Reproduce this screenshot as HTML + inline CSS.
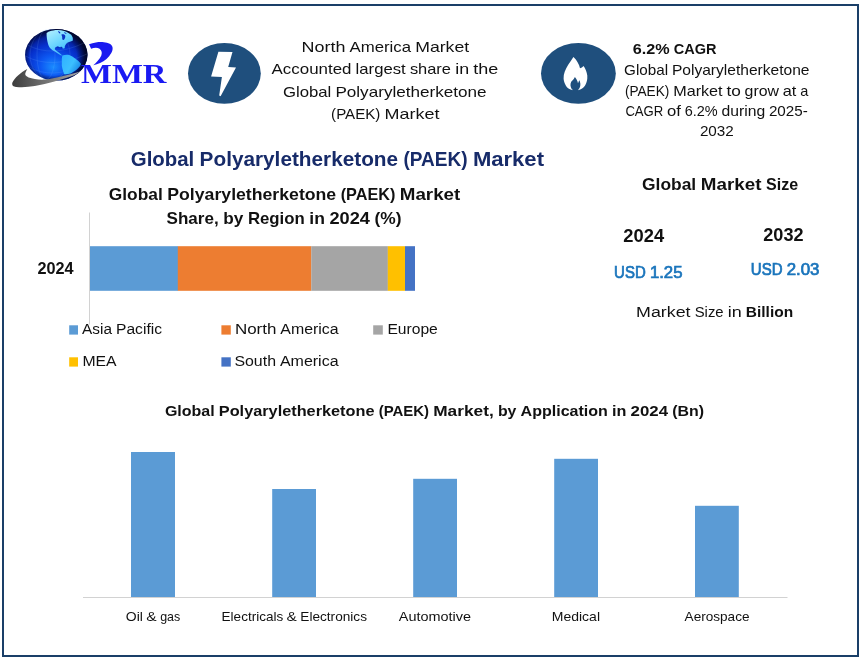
<!DOCTYPE html>
<html lang="en">
<head>
<meta charset="utf-8">
<title>Global Polyaryletherketone (PAEK) Market</title>
<style>
html,body{margin:0;padding:0;background:#fff;}
body{width:864px;height:660px;overflow:hidden;font-family:"Liberation Sans",sans-serif;}
svg{display:block;}
text{font-family:"Liberation Sans",sans-serif;}
.serif{font-family:"Liberation Serif",serif;}
</style>
</head>
<body>
<svg width="864" height="660" viewBox="0 0 864 660">
<defs>
<radialGradient id="globe" cx="0.45" cy="0.68" r="0.62" fx="0.45" fy="0.74">
<stop offset="0" stop-color="#1a8cff"/>
<stop offset="0.32" stop-color="#0d58f2"/>
<stop offset="0.66" stop-color="#0630cc"/>
<stop offset="1" stop-color="#031478"/>
</radialGradient>
<radialGradient id="rim" cx="0.45" cy="0.52" r="0.57">
<stop offset="0.66" stop-color="#020a40" stop-opacity="0"/>
<stop offset="0.88" stop-color="#01062a" stop-opacity="0.85"/>
<stop offset="1" stop-color="#000318" stop-opacity="1"/>
</radialGradient>
<linearGradient id="land" x1="0" y1="0" x2="0.6" y2="1">
<stop offset="0" stop-color="#b4f0ff"/>
<stop offset="0.55" stop-color="#6cd6ff"/>
<stop offset="1" stop-color="#38b4fa"/>
</linearGradient>
<linearGradient id="land2" x1="0" y1="0" x2="1" y2="0.6">
<stop offset="0" stop-color="#2fb0ff"/>
<stop offset="0.6" stop-color="#3cc0ff"/>
<stop offset="1" stop-color="#1a8ae8"/>
</linearGradient>
<linearGradient id="swoosh" x1="0" y1="0" x2="1" y2="0">
<stop offset="0" stop-color="#3c3c3c"/>
<stop offset="0.45" stop-color="#6e6e6e"/>
<stop offset="1" stop-color="#a8a8a8"/>
</linearGradient>
</defs>
<rect x="0" y="0" width="864" height="660" fill="#ffffff"/>
<!-- outer border -->
<rect x="3" y="5" width="855" height="651" fill="none" stroke="#1a3f68" stroke-width="2"/>
<!-- logo -->
<g id="logo">
<ellipse cx="56.3" cy="54.8" rx="31.2" ry="25.8" fill="url(#globe)"/>
<ellipse cx="56.3" cy="54.8" rx="31.2" ry="25.8" fill="url(#rim)"/>
<g fill="none" stroke="#7fbaff" stroke-width="0.5" opacity="0.3">
<ellipse cx="50" cy="54.8" rx="20" ry="25.4"/>
<ellipse cx="46" cy="54.8" rx="9" ry="24.6"/>
<path d="M27.5 45 Q52 58 84 43"/>
<path d="M25.3 56 Q52 70 87 54"/>
<path d="M29 67 Q52 80 83 65"/>
</g>
<path d="M46.6 32.9 C48.6 31.4 51 30.6 53.5 30.4 C57 29.8 60.8 30 64.3 30.9 C67 31.8 69.4 33.2 71.2 34.8 C72.6 36.6 73.2 38.6 72.7 40.7 C70.8 41.6 68.8 42 67.2 42.7 C66 43.8 65.2 45 64.8 46.2 C65 47.2 64.8 48 64.3 48.6 C63.2 48.6 62 47.8 61 47.4 C60.4 47.2 59.9 47.1 59.4 47.1 C58.2 46.6 57 46.6 55.9 47.1 C55 47.8 54.7 48.7 54.9 49.6 C56.2 51 57.8 52 59.4 53 C60.4 53.8 61.4 54.6 62.3 55.5 C61.2 55.4 60.2 55 59.4 54.5 C57.8 53.6 56.2 52.7 54.9 51.6 C53.2 50.8 51.7 49.8 50.5 48.6 C49.2 47.2 48.4 45.5 48 43.7 C47.2 40.2 46.4 36.5 46.6 32.9 Z" fill="url(#land)"/>
<path d="M62.3 55.5 C64.6 54.8 67 54.6 69.2 55 C71.4 55.8 73.4 57 75.1 58.5 C77.4 60 79.6 61.8 81 63.9 C80.4 65.6 79.4 67 78.1 68.3 C76 70.2 73.8 71.9 71.2 73.2 C69 74 66.6 74.4 64.3 74.2 C63.4 72.4 62.7 70.4 62.3 68.3 C61.8 66.4 61.6 64.4 61.8 62.4 C61.6 60 61.8 57.7 62.3 55.5 Z" fill="url(#land2)"/>
<path d="M61.4 34.6 C62.8 34 64.4 34.4 65.2 35.6 C65.6 37 65 38.6 64 39.8 C63 40.2 62.2 39.4 62.2 38.4 C62.4 37 61.8 35.8 61.4 34.6 Z" fill="#0a34c4"/>
<path d="M58 31 C60 31.6 61 33 60 33.6 C59 33.2 58.2 32.2 58 31 Z M64 32 C65.6 32.4 67 33.4 66.4 34 C65.2 33.8 64.2 33 64 32 Z" fill="#0a34c4"/>
<path d="M56.6 47 C57.6 46.2 58.8 46.4 59.2 47.4 C58.6 48.4 57.2 48.4 56.6 47 Z M60.2 47.2 C61.2 46.4 62.4 46.8 62.6 47.8 C61.8 48.6 60.6 48.4 60.2 47.2 Z" fill="#0a2fb8"/>
<path d="M27.3 69.1 C21 72.4 14.6 77.6 12.2 83.1 C11.8 85.8 13.6 87 16.3 86.9 C22.4 87.6 28.6 87 34.8 86 C38.2 85.5 41.4 84.8 44.6 84 C48 83.3 51.2 82.5 54.4 81.6 C57.8 80.7 61 79.7 64.3 78.6 C67.6 77.6 70.9 76.4 74.1 75.2 C76.5 74 78.8 72.6 81 71 C78.7 71.8 76.4 72.5 74.1 73.2 C70.9 74.2 67.6 75 64.3 75.7 C61 76.6 57.8 77.4 54.4 78.1 C51.2 78.8 48 79.4 44.6 79.6 C41.2 79.9 38 79.6 34.8 78.9 C31.8 78.6 29 78 27 76.6 C25.4 75.6 25 74.4 25.4 73 C25.8 71.6 26.6 70.3 27.3 69.1 Z" fill="url(#swoosh)"/>
<path d="M89 44.3 C91.2 43.4 93.6 42.8 95.9 42.4 C98.6 42 101.2 41.9 103.9 42.2 C106 42.4 108 42.9 109.7 43.7 C111.4 44.7 112.4 46 112.6 47.7 C112.8 49.5 112.2 51.2 111.3 53 C110 55.2 108.4 57.2 106.5 58.9 C104.6 60.5 102.4 61.9 100.1 63.1 C98 64.1 95.6 64.8 93.3 65.2 C95 63.8 96.6 62.2 98 60.5 C99.3 59 100.4 57.4 101.2 55.7 C101.7 54.5 101.9 53.2 101.7 52 C101.4 50.7 100.7 49.6 99.6 48.8 C98.5 48.1 97.2 47.8 95.9 47.7 C94.3 47.8 92.7 48.2 91.1 48.8 Z" fill="#1a1af0"/>
<text class="serif" x="81" y="82.8" font-size="27.5" font-weight="bold" fill="#1a1af2" textLength="85.5" lengthAdjust="spacingAndGlyphs">MMR</text>
</g>
<!-- lightning icon -->
<ellipse cx="224.4" cy="73.4" rx="36.4" ry="30.4" fill="#1f4f7d"/>
<path d="M218.4 51.8 L232.5 52 L228.2 67 L236 67.4 L220.6 96.2 L219.2 95.4 L221.9 76.9 L211.1 76.4 Z" fill="#ffffff"/>
<!-- flame icon -->
<ellipse cx="578.4" cy="73.4" rx="37.4" ry="30.4" fill="#1f4f7d"/>
<path d="M573.4 56.9 C575.2 58.4 576.6 60.3 577.7 62.4 C578.8 64.3 579.6 66.2 580 68.2 C581.4 67.8 582.6 67 583.5 65.9 C585 68 586.1 70.3 586.7 72.8 C587.3 74.7 587.5 76.6 587.3 78.6 C587.1 80.7 586.6 82.6 585.6 84.4 C584.8 86 583.6 87.4 582.1 88.4 C580.9 89.3 579.5 89.9 578 90.2 C579.3 88.9 580.1 87.3 580.3 85.6 C580.5 84.4 580.4 83.2 580 82.1 C579.9 81.4 579.6 80.8 579.2 80.3 C578.9 81.4 578.5 82.4 578 83.2 C577.7 81.8 577.2 80.6 576.6 79.5 C576.1 78.5 575.6 77.6 574.9 76.9 C574.3 78.4 573.3 79.6 572.4 80.6 C571.8 81.1 571.4 81.6 571.1 82.1 C570.6 83.2 570.4 84.4 570.5 85.6 C570.6 86.9 571 88 571.7 89 C572.2 89.5 572.8 89.9 573.4 90.2 C571.9 90 570.6 89.6 569.4 89 C567.6 88 566.2 86.3 565.3 84.4 C564.3 82.6 563.7 80.7 563.6 78.6 C563.5 76.2 563.9 73.9 564.7 71.7 C565.6 69.2 566.8 66.9 568.2 64.7 C569.9 62.1 571.7 59.6 573.4 56.9 Z" fill="#ffffff"/>
<!-- stacked bar chart -->
<line x1="89.5" y1="212.5" x2="89.5" y2="324.5" stroke="#d2d2d2" stroke-width="1"/>
<rect x="90" y="246.2" width="88" height="44.6" fill="#5b9bd5"/>
<rect x="177.8" y="246.2" width="133.6" height="44.6" fill="#ed7d31"/>
<rect x="311.3" y="246.2" width="76.6" height="44.6" fill="#a5a5a5"/>
<rect x="387.8" y="246.2" width="17.3" height="44.6" fill="#ffc000"/>
<rect x="405" y="246.2" width="10" height="44.6" fill="#4472c4"/>
<rect x="69.2" y="325.3" width="8.8" height="9.3" fill="#5b9bd5"/>
<rect x="221.4" y="325.3" width="9.4" height="9.3" fill="#ed7d31"/>
<rect x="373.2" y="325.3" width="9.6" height="9.3" fill="#a5a5a5"/>
<rect x="69.2" y="357.3" width="8.8" height="9.3" fill="#ffc000"/>
<rect x="221.4" y="357.3" width="9.4" height="9.3" fill="#4472c4"/>
<!-- column chart -->
<line x1="83" y1="597.5" x2="787.5" y2="597.5" stroke="#d2d2d2" stroke-width="1"/>
<rect x="131" y="452" width="44" height="145" fill="#5b9bd5"/>
<rect x="272.2" y="489" width="43.8" height="108" fill="#5b9bd5"/>
<rect x="413.2" y="478.8" width="43.8" height="118.2" fill="#5b9bd5"/>
<rect x="554.2" y="458.8" width="43.8" height="138.2" fill="#5b9bd5"/>
<rect x="695" y="505.8" width="43.8" height="91.2" fill="#5b9bd5"/>
<!-- text -->
<text y="52.0" font-size="15.0" fill="#111"><tspan x="301.6" textLength="43.8" lengthAdjust="spacingAndGlyphs">North</tspan> <tspan x="349.5" textLength="61.5" lengthAdjust="spacingAndGlyphs">America</tspan> <tspan x="415.2" textLength="53.9" lengthAdjust="spacingAndGlyphs">Market</tspan></text>
<text y="74.3" font-size="15.0" fill="#111"><tspan x="271.6" textLength="79.9" lengthAdjust="spacingAndGlyphs">Accounted</tspan> <tspan x="355.6" textLength="50.1" lengthAdjust="spacingAndGlyphs">largest</tspan> <tspan x="409.9" textLength="41.1" lengthAdjust="spacingAndGlyphs">share</tspan> <tspan x="455.2" textLength="13.9" lengthAdjust="spacingAndGlyphs">in</tspan> <tspan x="473.3" textLength="25.0" lengthAdjust="spacingAndGlyphs">the</tspan></text>
<text y="96.9" font-size="15.0" fill="#111"><tspan x="282.9" textLength="48.4" lengthAdjust="spacingAndGlyphs">Global</tspan> <tspan x="335.4" textLength="151.2" lengthAdjust="spacingAndGlyphs">Polyaryletherketone</tspan></text>
<text y="118.7" font-size="15.0" fill="#111"><tspan x="331.1" textLength="49.3" lengthAdjust="spacingAndGlyphs">(PAEK)</tspan> <tspan x="384.6" textLength="54.9" lengthAdjust="spacingAndGlyphs">Market</tspan></text>
<text y="53.8" font-size="14.2" font-weight="bold" fill="#111"><tspan x="632.8" textLength="36.9" lengthAdjust="spacingAndGlyphs">6.2%</tspan> <tspan x="673.8" textLength="42.7" lengthAdjust="spacingAndGlyphs">CAGR</tspan></text>
<text y="75.2" font-size="14.2" fill="#111"><tspan x="624.1" textLength="44.0" lengthAdjust="spacingAndGlyphs">Global</tspan> <tspan x="671.9" textLength="137.6" lengthAdjust="spacingAndGlyphs">Polyaryletherketone</tspan></text>
<text y="95.8" font-size="14.2" fill="#111"><tspan x="624.9" textLength="44.4" lengthAdjust="spacingAndGlyphs">(PAEK)</tspan> <tspan x="673.2" textLength="49.4" lengthAdjust="spacingAndGlyphs">Market</tspan> <tspan x="726.4" textLength="14.4" lengthAdjust="spacingAndGlyphs">to</tspan> <tspan x="744.6" textLength="34.4" lengthAdjust="spacingAndGlyphs">grow</tspan> <tspan x="782.8" textLength="13.6" lengthAdjust="spacingAndGlyphs">at</tspan> <tspan x="800.2" textLength="8.1" lengthAdjust="spacingAndGlyphs">a</tspan></text>
<text y="116.0" font-size="14.2" fill="#111"><tspan x="625.4" textLength="37.9" lengthAdjust="spacingAndGlyphs">CAGR</tspan> <tspan x="667.1" textLength="13.9" lengthAdjust="spacingAndGlyphs">of</tspan> <tspan x="684.7" textLength="33.0" lengthAdjust="spacingAndGlyphs">6.2%</tspan> <tspan x="721.5" textLength="43.7" lengthAdjust="spacingAndGlyphs">during</tspan> <tspan x="768.9" textLength="38.9" lengthAdjust="spacingAndGlyphs">2025-</tspan></text>
<text x="699.9" y="136.3" font-size="14.2" fill="#111" textLength="33.9" lengthAdjust="spacingAndGlyphs">2032</text>
<text y="166.2" font-size="20.0" font-weight="bold" fill="#172b69"><tspan x="130.8" textLength="63.5" lengthAdjust="spacingAndGlyphs">Global</tspan> <tspan x="199.6" textLength="198.5" lengthAdjust="spacingAndGlyphs">Polyaryletherketone</tspan> <tspan x="403.4" textLength="64.2" lengthAdjust="spacingAndGlyphs">(PAEK)</tspan> <tspan x="472.9" textLength="71.1" lengthAdjust="spacingAndGlyphs">Market</tspan></text>
<text y="199.5" font-size="17.0" font-weight="bold" fill="#111"><tspan x="108.8" textLength="54.0" lengthAdjust="spacingAndGlyphs">Global</tspan> <tspan x="167.3" textLength="168.9" lengthAdjust="spacingAndGlyphs">Polyaryletherketone</tspan> <tspan x="340.7" textLength="54.6" lengthAdjust="spacingAndGlyphs">(PAEK)</tspan> <tspan x="399.8" textLength="60.5" lengthAdjust="spacingAndGlyphs">Market</tspan></text>
<text y="223.9" font-size="17.0" font-weight="bold" fill="#111"><tspan x="166.6" textLength="52.1" lengthAdjust="spacingAndGlyphs">Share,</tspan> <tspan x="223.3" textLength="20.1" lengthAdjust="spacingAndGlyphs">by</tspan> <tspan x="247.9" textLength="56.9" lengthAdjust="spacingAndGlyphs">Region</tspan> <tspan x="309.3" textLength="15.6" lengthAdjust="spacingAndGlyphs">in</tspan> <tspan x="329.4" textLength="40.5" lengthAdjust="spacingAndGlyphs">2024</tspan> <tspan x="374.5" textLength="27.0" lengthAdjust="spacingAndGlyphs">(%)</tspan></text>
<text x="37.4" y="274.0" font-size="15.6" font-weight="bold" fill="#111" textLength="36.2" lengthAdjust="spacingAndGlyphs">2024</text>
<text y="334.3" font-size="15.5" fill="#111"><tspan x="82.1" textLength="29.9" lengthAdjust="spacingAndGlyphs">Asia</tspan> <tspan x="116.0" textLength="46.0" lengthAdjust="spacingAndGlyphs">Pacific</tspan></text>
<text y="334.3" font-size="15.5" fill="#111"><tspan x="234.9" textLength="41.5" lengthAdjust="spacingAndGlyphs">North</tspan> <tspan x="280.3" textLength="58.3" lengthAdjust="spacingAndGlyphs">America</tspan></text>
<text x="387.4" y="334.3" font-size="15.5" fill="#111" textLength="50.4" lengthAdjust="spacingAndGlyphs">Europe</text>
<text x="82.4" y="366.3" font-size="15.5" fill="#111" textLength="34.2" lengthAdjust="spacingAndGlyphs">MEA</text>
<text y="366.3" font-size="15.5" fill="#111"><tspan x="234.4" textLength="41.6" lengthAdjust="spacingAndGlyphs">South</tspan> <tspan x="279.9" textLength="58.7" lengthAdjust="spacingAndGlyphs">America</tspan></text>
<text y="189.7" font-size="17.2" font-weight="bold" fill="#111"><tspan x="642.1" textLength="54.1" lengthAdjust="spacingAndGlyphs">Global</tspan> <tspan x="700.8" textLength="60.6" lengthAdjust="spacingAndGlyphs">Market</tspan> <tspan x="766.0" textLength="32.1" lengthAdjust="spacingAndGlyphs">Size</tspan></text>
<text x="623.3" y="242.0" font-size="17.8" font-weight="bold" fill="#111" textLength="40.8" lengthAdjust="spacingAndGlyphs">2024</text>
<text x="763.3" y="241.0" font-size="17.8" font-weight="bold" fill="#111" textLength="40.3" lengthAdjust="spacingAndGlyphs">2032</text>
<text y="277.5" font-size="15.6" fill="#1b75bc" stroke="#1b75bc" stroke-width="0.7"><tspan x="614.1" textLength="31.6" lengthAdjust="spacingAndGlyphs">USD</tspan> <tspan x="649.9" textLength="32.6" lengthAdjust="spacingAndGlyphs">1.25</tspan></text>
<text y="274.7" font-size="15.6" fill="#1b75bc" stroke="#1b75bc" stroke-width="0.7"><tspan x="750.8" textLength="31.7" lengthAdjust="spacingAndGlyphs">USD</tspan> <tspan x="786.7" textLength="32.8" lengthAdjust="spacingAndGlyphs">2.03</tspan></text>
<text y="316.7" font-size="15.2" fill="#111"><tspan x="636.1" textLength="54.4" lengthAdjust="spacingAndGlyphs">Market</tspan> <tspan x="694.7" textLength="28.9" lengthAdjust="spacingAndGlyphs">Size</tspan> <tspan x="727.8" textLength="14.0" lengthAdjust="spacingAndGlyphs">in</tspan> <tspan x="745.8" font-weight="bold" textLength="47.3" lengthAdjust="spacingAndGlyphs">Billion</tspan></text>
<text y="415.5" font-size="14.9" font-weight="bold" fill="#111"><tspan x="164.9" textLength="49.8" lengthAdjust="spacingAndGlyphs">Global</tspan> <tspan x="218.8" textLength="155.7" lengthAdjust="spacingAndGlyphs">Polyaryletherketone</tspan> <tspan x="378.7" textLength="50.4" lengthAdjust="spacingAndGlyphs">(PAEK)</tspan> <tspan x="433.2" textLength="60.5" lengthAdjust="spacingAndGlyphs">Market,</tspan> <tspan x="497.9" textLength="18.5" lengthAdjust="spacingAndGlyphs">by</tspan> <tspan x="520.6" textLength="87.3" lengthAdjust="spacingAndGlyphs">Application</tspan> <tspan x="612.0" textLength="14.4" lengthAdjust="spacingAndGlyphs">in</tspan> <tspan x="630.6" textLength="37.4" lengthAdjust="spacingAndGlyphs">2024</tspan> <tspan x="672.2" textLength="31.8" lengthAdjust="spacingAndGlyphs">(Bn)</tspan></text>
<text y="620.8" font-size="12.9" fill="#111"><tspan x="125.8" textLength="17.1" lengthAdjust="spacingAndGlyphs">Oil</tspan> <tspan x="146.3" textLength="10.4" lengthAdjust="spacingAndGlyphs">&amp;</tspan> <tspan x="160.2" textLength="20.1" lengthAdjust="spacingAndGlyphs">gas</tspan></text>
<text y="620.8" font-size="12.9" fill="#111"><tspan x="221.6" textLength="61.6" lengthAdjust="spacingAndGlyphs">Electricals</tspan> <tspan x="286.6" textLength="10.3" lengthAdjust="spacingAndGlyphs">&amp;</tspan> <tspan x="300.3" textLength="66.7" lengthAdjust="spacingAndGlyphs">Electronics</tspan></text>
<text x="398.8" y="620.8" font-size="12.9" fill="#111" textLength="72.3" lengthAdjust="spacingAndGlyphs">Automotive</text>
<text x="551.8" y="620.8" font-size="12.9" fill="#111" textLength="48.2" lengthAdjust="spacingAndGlyphs">Medical</text>
<text x="684.6" y="620.8" font-size="12.9" fill="#111" textLength="64.9" lengthAdjust="spacingAndGlyphs">Aerospace</text>
</svg>
</body>
</html>
